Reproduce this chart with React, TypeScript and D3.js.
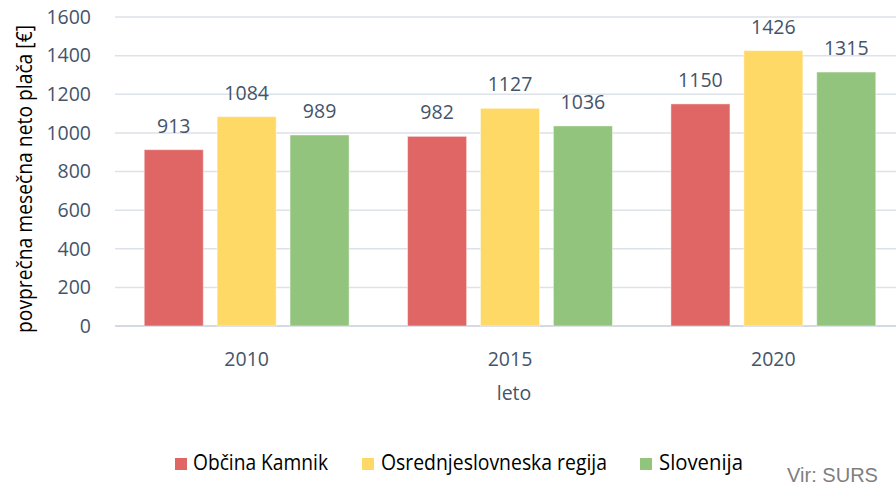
import React from "react";
import * as d3 from "d3";

const years = ["2010", "2015", "2020"];
const seriesNames = ["Občina Kamnik", "Osrednjeslovneska regija", "Slovenija"];
const kamnik = [913, 982, 1150];
const regija = [1084, 1127, 1426];
const slovenija = [989, 1036, 1315];
const yTicks = [0, 200, 400, 600, 800, 1000, 1200, 1400, 1600];
const colors = ["#E06666", "#FFD966", "#93C47D"];

const W = 896;
const H = 484;
const left = 115;
const right = 905;
const top = 17;
const bottom = 326;
const font = "'Open Sans', sans-serif";
const tickColor = "#44546A";

export default function App() {
  const values = [kamnik, regija, slovenija];
  const y = d3.scaleLinear().domain([0, 1600]).range([bottom, top]);
  const x0 = d3.scaleBand<string>().domain(years).range([left, right]).paddingInner(0.222).paddingOuter(0.111);
  const x1 = d3.scaleBand<string>().domain(seriesNames).range([0, x0.bandwidth()]).paddingInner(0.19).paddingOuter(0);

  const legendX = [175, 362, 640];
  const legendTextX = [193, 381, 659];
  const legendW = [135, 226, 84];

  return (
    <div style={{ position: "absolute", left: 0, top: 0 }}>
      <svg width={W} height={H} style={{ display: "block", background: "#fff" }}>
        {yTicks.map((t) => (
          <g key={t}>
            <line x1={left} x2={W} y1={y(t)} y2={y(t)} stroke={t === 0 ? "#D5DAE2" : "#DDE2E9"} strokeWidth={t === 0 ? 2 : 1.5} />
            <text x={91} y={y(t)} dy="0.35em" textAnchor="end" fontFamily={font} fontSize={19.5} fill={tickColor}>
              {t}
            </text>
          </g>
        ))}
        {years.map((yr, i) => (
          <g key={yr} transform={`translate(${x0(yr)},0)`}>
            {seriesNames.map((s, j) => {
              const v = values[j][i];
              const bx = x1(s)!;
              const bw = x1.bandwidth();
              return (
                <g key={s}>
                  <rect x={bx} y={y(v)} width={bw} height={bottom - y(v)} fill={colors[j]} stroke="#fff" strokeOpacity={0.45} strokeWidth={1} />
                  <text x={bx + bw / 2} y={y(v) - 17} textAnchor="middle" fontFamily={font} fontSize={19.5} fill={tickColor}>
                    {v}
                  </text>
                </g>
              );
            })}
            <text x={x0.bandwidth() / 2} y={366} textAnchor="middle" fontFamily={font} fontSize={19.5} fill={tickColor}>
              {yr}
            </text>
          </g>
        ))}
        <text x={(left + right) / 2 + 4} y={400} textAnchor="middle" fontFamily={font} fontSize={19.5} fill={tickColor}>
          leto
        </text>
        <text
          transform={`translate(32,179) rotate(-90)`}
          textAnchor="middle"
          fontFamily={font}
          fontSize={22.5}
          fill="#000"
          textLength={308}
          lengthAdjust="spacingAndGlyphs"
        >
          povprečna mesečna neto plača [€]
        </text>
        {seriesNames.map((s, j) => (
          <g key={s}>
            <rect x={legendX[j]} y={458} width={12} height={12} fill={colors[j]} />
            <text
              x={legendTextX[j]}
              y={470}
              fontFamily={font}
              fontSize={22.5}
              fill="#000"
              textLength={legendW[j]}
              lengthAdjust="spacingAndGlyphs"
            >
              {s}
            </text>
          </g>
        ))}
        <text
          x={787}
          y={482}
          fontFamily="'Liberation Sans', Arial, sans-serif"
          fontSize={19.5}
          fill="#7F7F7F"
          textLength={91}
          lengthAdjust="spacingAndGlyphs"
        >
          Vir: SURS
        </text>
      </svg>
    </div>
  );
}
